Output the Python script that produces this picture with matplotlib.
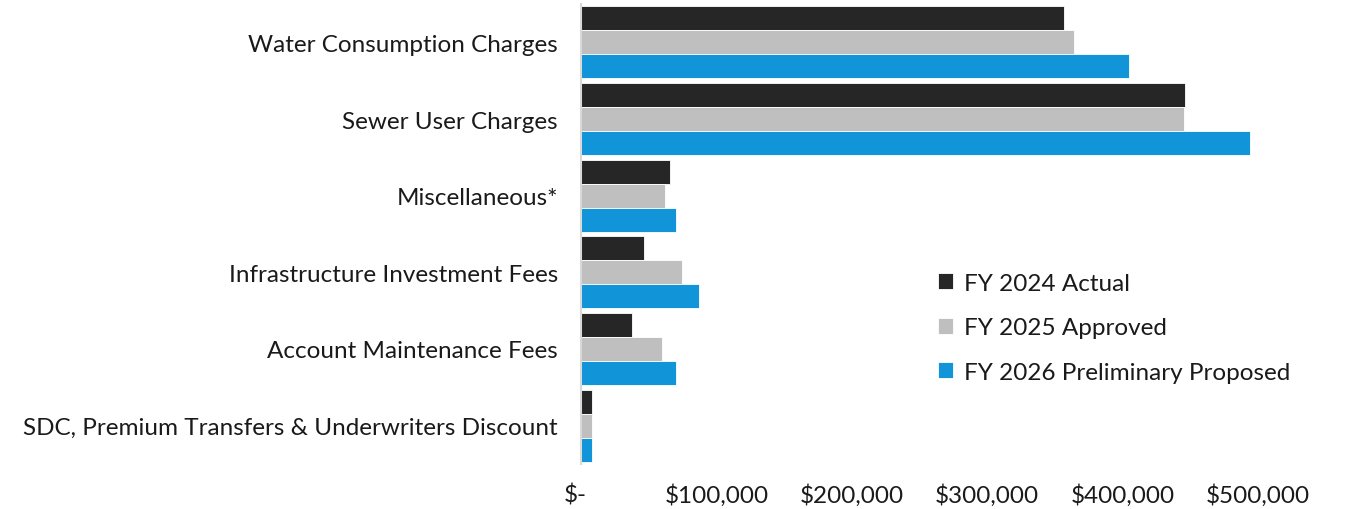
import matplotlib
matplotlib.use("Agg")
import matplotlib.pyplot as plt
import matplotlib.transforms as mtransforms
from matplotlib.ticker import FuncFormatter
import numpy as np

categories = [
    "Water Consumption Charges",
    "Sewer User Charges",
    "Miscellaneous*",
    "Infrastructure Investment Fees",
    "Account Maintenance Fees",
    "SDC, Premium Transfers & Underwriters Discount",
]
series_names = ["FY 2024 Actual", "FY 2025 Approved", "FY 2026 Preliminary Proposed"]
fy2024_actual = [356500, 445900, 66000, 46800, 37700, 7900]
fy2025_approved = [363900, 445700, 62300, 74900, 59900, 7900]
fy2026_proposed = [404500, 494500, 70400, 87200, 70000, 7900]
x_ticks = [0, 100000, 200000, 300000, 400000, 500000]

colors = ["#262626", "#bfbfbf", "#1294d8"]

plt.rcParams["font.family"] = ["Lato", "DejaVu Sans"]
FS = 17.5

fig = plt.figure(figsize=(13.49, 5.10), dpi=100)
ax = fig.add_axes([581 / 1349, 1 - 465 / 510, (1312 - 581) / 1349, 460 / 510])

n = len(categories)
y = np.arange(n)
group_w = 0.935
bh = group_w / 3
all_series = [fy2024_actual, fy2025_approved, fy2026_proposed]
for i, (vals, name, c) in enumerate(zip(all_series, series_names, colors)):
    ax.barh(y - group_w / 2 + bh * (i + 0.5), vals, height=bh, color=c,
            label=name, edgecolor="white", linewidth=0.6)

ax.set_ylim(n - 0.5, -0.5)
ax.set_xlim(0, 540000)
ax.set_yticks(y)
ax.set_yticklabels(categories, fontsize=FS, color="#1a1a1a")
ax.set_xticks(x_ticks)
ax.xaxis.set_major_formatter(FuncFormatter(lambda v, p: "$-" if v == 0 else f"${v:,.0f}"))
ax.tick_params(axis="x", length=0, pad=14, labelsize=FS, labelcolor="#1a1a1a")
ax.tick_params(axis="y", length=0, pad=16.5)
for lbl in ax.get_xticklabels():
    if lbl.get_text() == "$-":
        lbl.set_transform(lbl.get_transform() + mtransforms.ScaledTranslation(-6 / 100, 0, fig.dpi_scale_trans))

for s in ["top", "right", "bottom"]:
    ax.spines[s].set_visible(False)
ax.spines["left"].set_color("#d9d9d9")
ax.spines["left"].set_linewidth(1.5)

leg = ax.legend(loc="upper left", bbox_to_anchor=(916 / 1349, 1 - 252 / 510),
                bbox_transform=fig.transFigure, frameon=False, fontsize=FS,
                handlelength=0.62, handleheight=0.62, handletextpad=0.45,
                labelspacing=0.96)
for t in leg.get_texts():
    t.set_color("#1a1a1a")

fig.savefig("out.png", dpi=100)
